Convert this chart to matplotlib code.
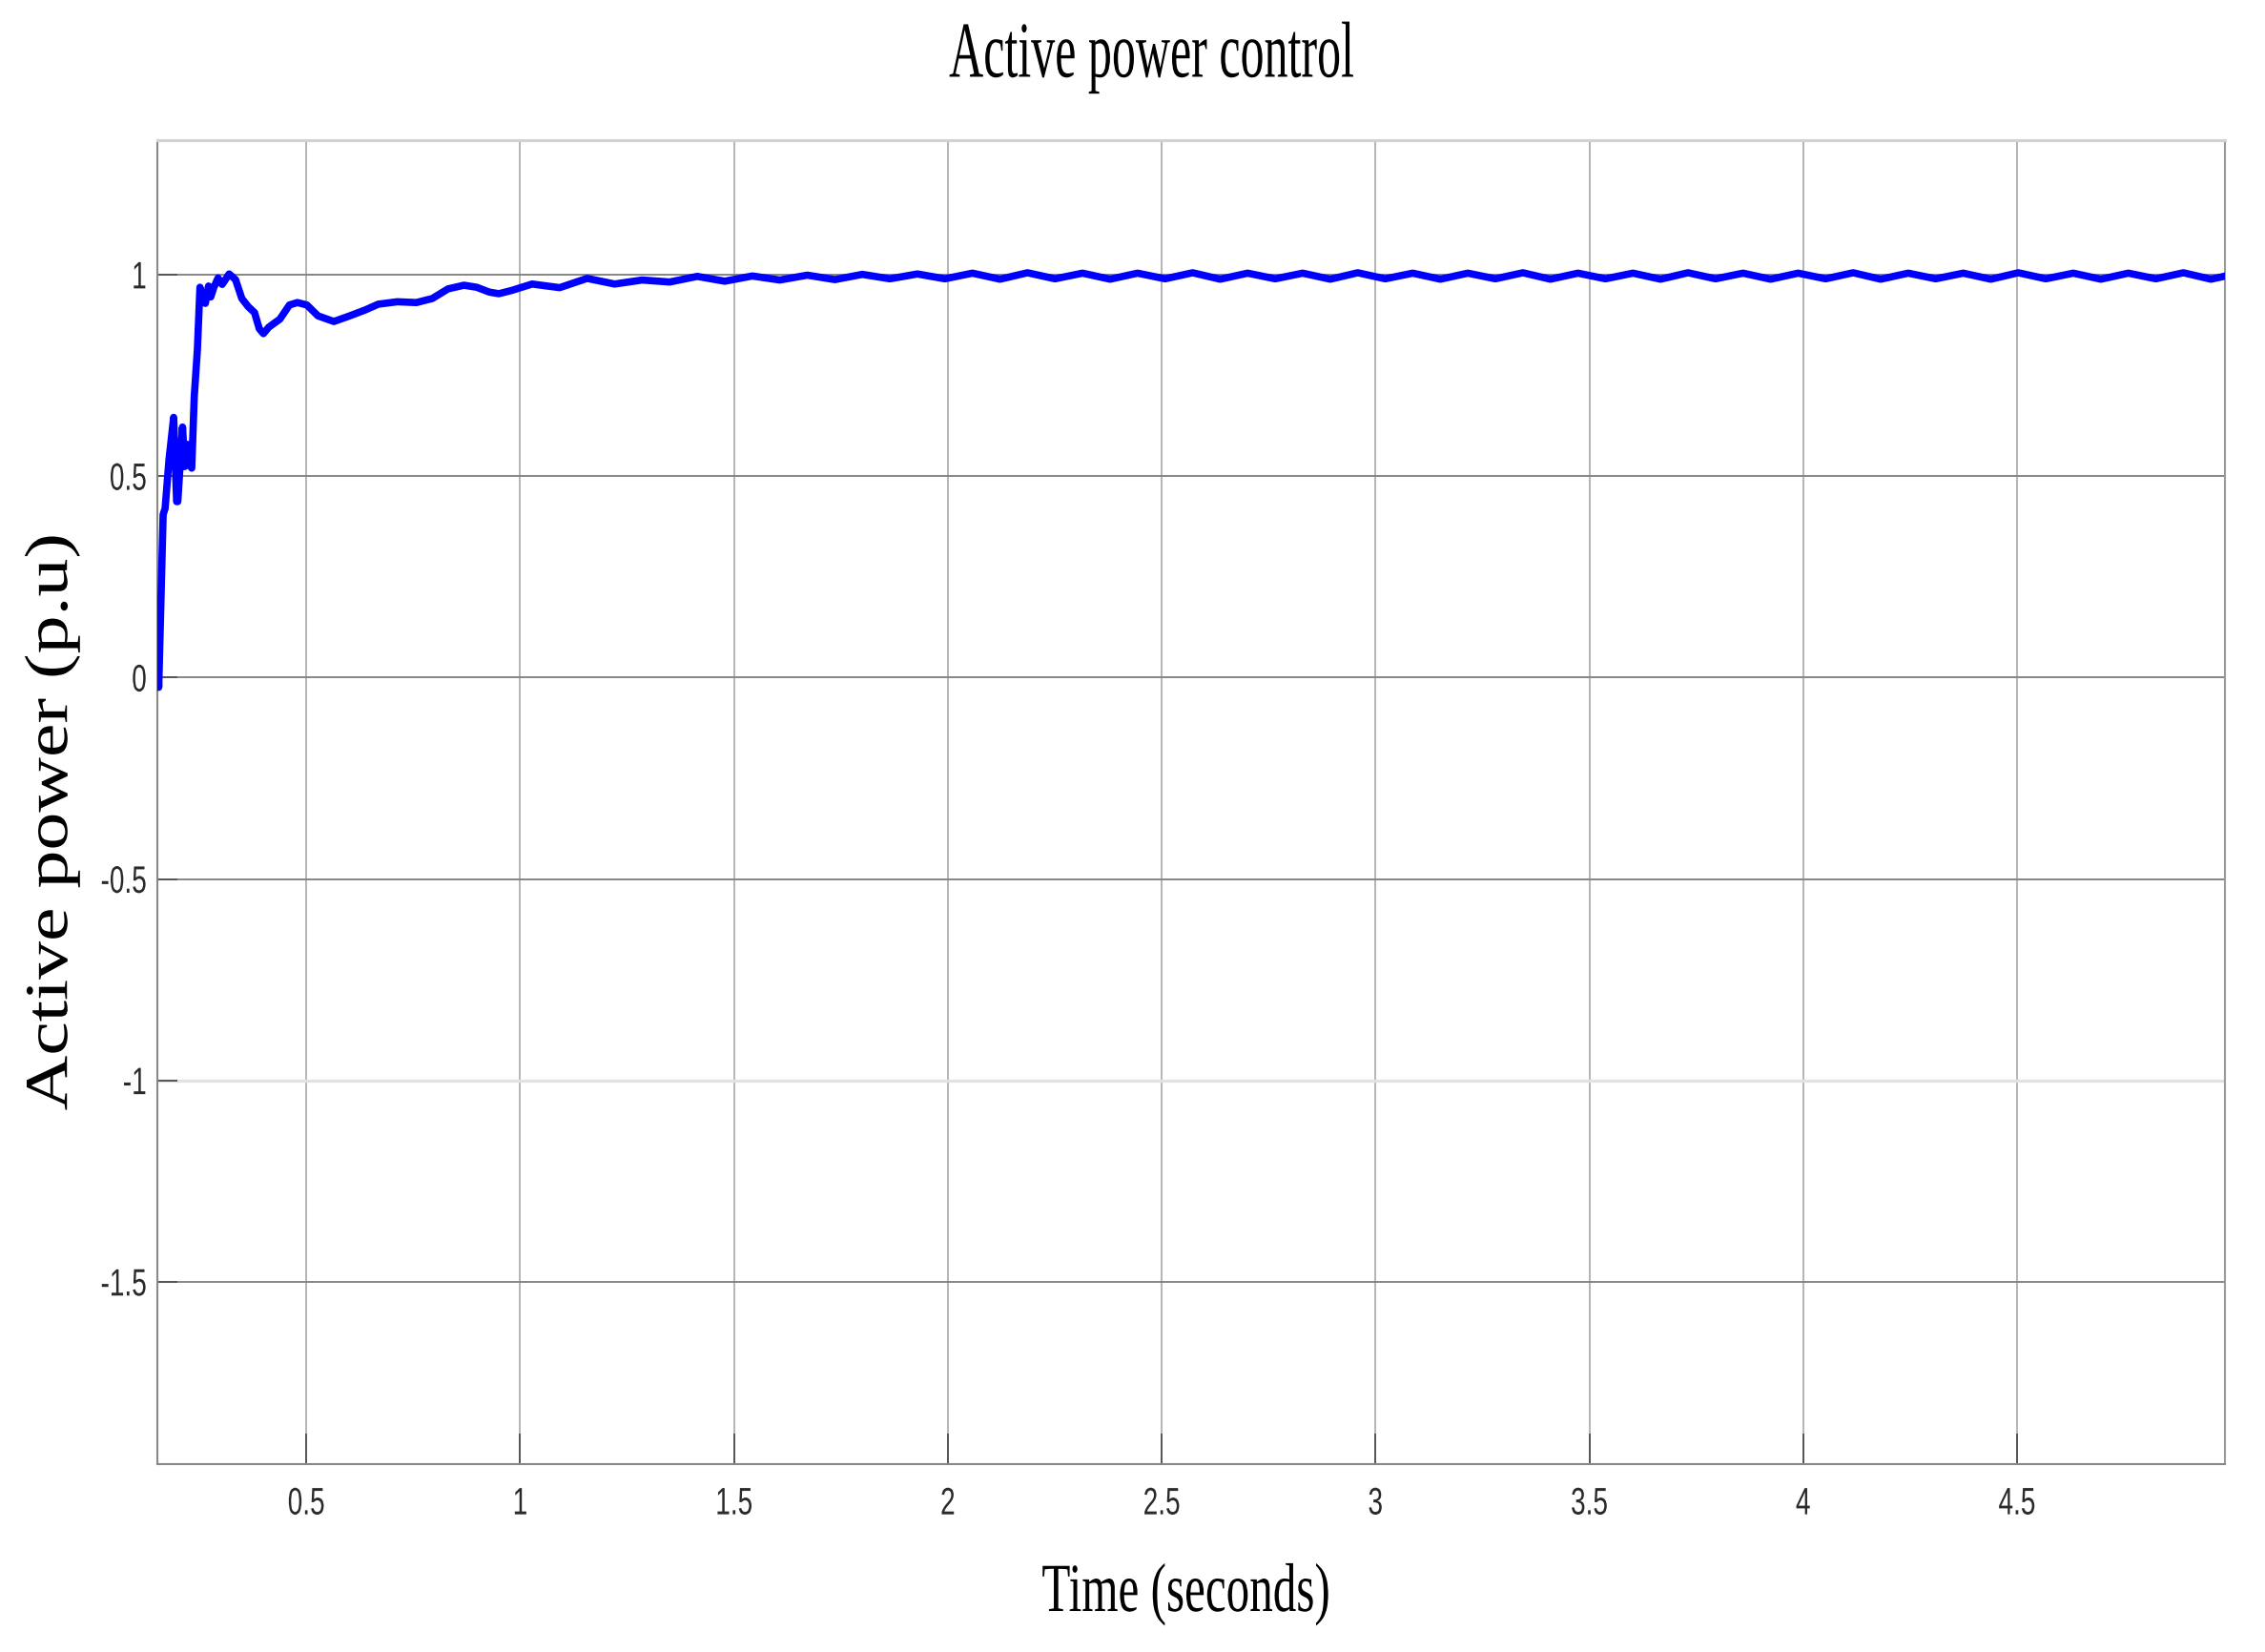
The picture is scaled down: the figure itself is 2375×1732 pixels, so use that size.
import numpy as np
import matplotlib
matplotlib.use("Agg")
import matplotlib.pyplot as plt
import matplotlib.patheffects as pe
from matplotlib.transforms import Affine2D

# transient part of the active power trace (p.u.)
t_start = [0.150, 0.155, 0.1654, 0.170, 0.179, 0.190, 0.197, 0.1996, 0.2107, 0.2159,
           0.2218, 0.227, 0.2322, 0.2381, 0.2455, 0.2515, 0.2567, 0.2641, 0.2715, 0.2767,
           0.2841, 0.2938, 0.3034, 0.3197, 0.3346, 0.3494, 0.3642, 0.3791, 0.3902, 0.3999,
           0.4125, 0.4384, 0.4607, 0.4792, 0.5015, 0.5274, 0.5645, 0.6016, 0.6387, 0.6684,
           0.7129, 0.7574, 0.7945, 0.8316, 0.8687, 0.8984, 0.928, 0.9503, 0.98]
p_start = [0.110, -0.024, 0.405, 0.420, 0.540, 0.646, 0.437, 0.437, 0.622, 0.524,
           0.579, 0.528, 0.520, 0.697, 0.815, 0.969, 0.941, 0.929, 0.972, 0.945,
           0.969, 0.992, 0.976, 1.002, 0.988, 0.941, 0.921, 0.906, 0.866, 0.854,
           0.870, 0.890, 0.925, 0.931, 0.925, 0.898, 0.884, 0.898, 0.913, 0.927,
           0.933, 0.931, 0.941, 0.965, 0.974, 0.969, 0.957, 0.953, 0.961]

# steady state ripple: peaks and troughs read every half period
ripple_t0 = 1.028
ripple_half_period = 0.06435
p_ripple = [0.977, 0.968, 0.991, 0.977, 0.987, 0.982, 0.996, 0.984, 0.997, 0.987,
            0.999, 0.988, 1.001, 0.990, 1.002, 0.990, 1.004, 0.989, 1.005, 0.990,
            1.004, 0.989, 1.004, 0.990, 1.005, 0.989, 1.004, 0.990, 1.004, 0.989,
            1.005, 0.990, 1.004, 0.989, 1.004, 0.990, 1.005, 0.989, 1.004, 0.990,
            1.004, 0.989, 1.005, 0.990, 1.004, 0.989, 1.004, 0.990, 1.005, 0.989,
            1.004, 0.990, 1.004, 0.989, 1.005, 0.990, 1.004, 0.989, 1.004, 0.990,
            1.005, 0.989, 1.004]
t_ripple = ripple_t0 + ripple_half_period * np.arange(len(p_ripple))

xticks = [0.5, 1, 1.5, 2, 2.5, 3, 3.5, 4, 4.5]
xtick_labels = ['0.5', '1', '1.5', '2', '2.5', '3', '3.5', '4', '4.5']
yticks = [-1.5, -1, -0.5, 0, 0.5, 1]
ytick_labels = ['-1.5', '-1', '-0.5', '0', '0.5', '1']


class Squash(pe.AbstractPathEffect):
    """Draw text scaled along screen x/y, like the distorted original."""
    def __init__(self, sx=1.0, sy=1.0, anchor='center'):
        super().__init__()
        self.sx = sx
        self.sy = sy
        self.anchor = anchor

    def draw_path(self, renderer, gc, tpath, affine, rgbFace=None):
        ext = tpath.get_extents(affine)
        if self.anchor == 'right':
            cx = ext.x1
        else:
            cx = 0.5 * (ext.x0 + ext.x1)
        cy = 0.5 * (ext.y0 + ext.y1)
        warp = Affine2D().translate(-cx, -cy).scale(self.sx, self.sy).translate(cx, cy)
        renderer.draw_path(gc, tpath, affine + warp, rgbFace)


plt.rcParams['axes.unicode_minus'] = False

fig = plt.figure(figsize=(23.75, 17.33), dpi=100)
ax = fig.add_axes([0.0695, 0.1137, 0.9128, 0.8009])

t = np.concatenate([t_start, t_ripple])
p = np.concatenate([p_start, p_ripple])
ax.plot(t, p, color='#0000ff', lw=5.5, solid_joinstyle='round', zorder=3)

ax.set_xlim(0.152, 4.986)
ax.set_ylim(-1.952, 1.334)
ax.set_xticks(xticks)
ax.set_xticklabels(xtick_labels)
ax.set_yticks(yticks)
ax.set_yticklabels(ytick_labels)

ax.xaxis.grid(True, color='#b4b4b4', lw=1.4)
ax.yaxis.grid(True, color='#858585', lw=1.4)
for val, gl in zip(yticks, ax.yaxis.get_gridlines()):
    if val == -1:
        gl.set_color('#e2e2e2')
        gl.set_linewidth(2.4)
ax.set_axisbelow(True)

ax.tick_params(axis='x', direction='in', length=23, width=1.4, color='#555555',
               pad=19, labelsize=24, labelcolor='#2a2a2a')
ax.tick_params(axis='y', direction='in', length=15, width=1.4, color='#555555',
               pad=8, labelsize=24, labelcolor='#2a2a2a')
for lab in ax.get_xticklabels():
    lab.set_fontfamily('Liberation Sans')
    lab.set_path_effects([Squash(0.84, 1.2)])
for lab in ax.get_yticklabels():
    lab.set_fontfamily('Liberation Sans')
    lab.set_path_effects([Squash(0.84, 1.2, anchor='right')])

ax.spines['left'].set_color('#888888')
ax.spines['bottom'].set_color('#888888')
ax.spines['right'].set_color('#9a9a9a')
ax.spines['top'].set_color('#d2d2d2')
for side in ['left', 'bottom', 'right']:
    ax.spines[side].set_linewidth(1.5)
ax.spines['top'].set_linewidth(2.2)

fig.text(0.5086, 0.953, 'Active power control', family='Liberation Serif',
         fontsize=60, ha='center', va='baseline',
         path_effects=[Squash(0.6)])
fig.text(0.5238, 0.0248, 'Time (seconds)', family='Liberation Serif',
         fontsize=52, ha='center', va='baseline',
         path_effects=[Squash(0.68)])
fig.text(0.0232, 0.502, 'Active power (p.u)', family='Liberation Serif',
         fontsize=46, ha='center', va='center', rotation=90,
         path_effects=[Squash(1.0, 1.25)])

fig.savefig('out.png', dpi=100)
